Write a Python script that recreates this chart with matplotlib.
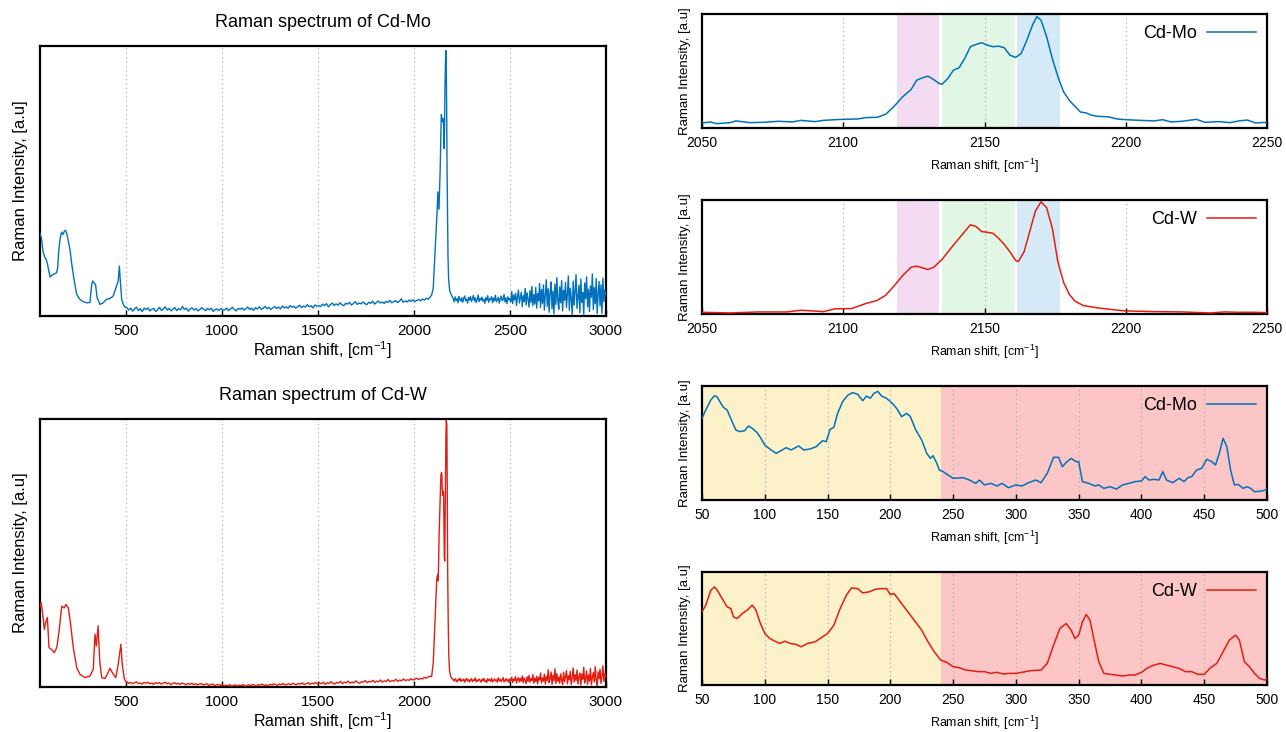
import numpy as np
import matplotlib
matplotlib.use("Agg")
import matplotlib.pyplot as plt

plt.rcParams['font.family'] = ['Liberation Sans', 'DejaVu Sans']
plt.rcParams['mathtext.fontset'] = 'custom'
plt.rcParams['mathtext.rm'] = 'Liberation Sans'
plt.rcParams['mathtext.default'] = 'regular'

BLUE = '#0072bd'
RED = '#e41d12'

# ---------------- full spectra (left panels) ----------------
# Cd-Mo low-frequency part
mo_low_x = [50, 55, 60, 68, 78, 85, 92, 105, 120, 139, 145, 150, 158, 165, 172, 180, 186, 192,
            200, 210, 218, 231, 244, 260, 278, 296, 313, 322, 328, 334, 342, 350, 365, 382, 399,
            417, 434, 451, 460, 466, 471, 478, 487, 495]
mo_low_y = [31, 30, 29, 24, 21.6, 21, 19, 14.4, 15.4, 16, 18, 24, 29, 31, 30.2, 31.5, 31.7, 30.5,
            27.8, 24, 19.2, 13, 8, 6.2, 5.3, 4.9, 5, 11.7, 13, 12.2, 11.7, 6.8, 4.3, 4.9, 6.2,
            6.5, 7.4, 11.1, 13, 18.5, 13, 6.2, 4.3, 3.3]
# Cd-Mo baseline 500 - 2085
mo_base_y = [3.1, 2.2, 2.9, 1.8, 2.6, 3.3, 2.0, 2.7, 1.6, 2.9, 2.4, 3.0, 1.9, 2.5, 2.8, 1.7, 2.3,
             3.2, 2.1, 2.6, 3.4, 2.2, 2.8, 1.9, 2.5, 3.1, 2.0, 2.7, 2.3, 3.5, 2.4, 2.9, 1.8, 2.6,
             3.0, 2.2, 2.7, 1.9, 2.4, 3.1, 2.5, 2.0, 2.8, 2.3, 2.9, 1.7, 2.4, 2.6, 2.1, 2.8, 2.2,
             2.3, 2.9, 2.0, 2.6, 3.2, 2.4, 1.9, 2.8, 2.5, 3.0, 2.2, 2.7, 3.3, 2.4, 2.9, 2.1, 3.1,
             2.6, 3.4, 2.5, 2.8, 3.6, 2.7, 3.2, 2.4, 3.0, 3.5, 2.8, 3.3, 2.6, 3.7, 3.0, 3.4, 2.8,
             3.9, 3.2, 3.6, 2.9, 3.5, 4.0, 3.1, 3.7, 3.3, 4.2, 3.4, 3.8, 3.0, 4.1, 3.6, 3.9,
             3.5, 4.4, 3.8, 4.6, 3.4, 4.2, 4.8, 3.9, 4.5, 4.0, 4.9, 4.2, 3.8, 4.7, 4.4, 5.0, 4.1,
             4.6, 5.3, 4.3, 4.8, 4.5, 5.2, 4.6, 4.2, 5.1, 4.7, 5.5, 4.4, 5.0, 5.6, 4.8, 5.2, 4.6,
             5.4, 5.0, 5.8, 4.9, 5.3, 5.7, 5.0, 5.5, 6.4, 5.1, 5.6, 5.2, 5.9, 5.4, 6.0, 5.3, 5.8,
             6.1, 5.6, 6.3, 5.9, 6.6, 6.2, 7.0]
# Cd-Mo main band
mo_peak_x = [2093, 2101, 2110, 2119, 2122, 2125, 2128, 2131, 2134, 2137, 2140, 2143, 2146, 2150,
             2154, 2156, 2158, 2160, 2162, 2165, 2167, 2169, 2171, 2173, 2176, 2178, 2181, 2185,
             2188, 2195]
mo_peak_y = [7.8, 10.3, 22.7, 35, 40, 46, 43, 39.5, 46, 53.6, 65, 74.7, 73.5, 72,
             73, 68, 62, 70, 84, 94, 98.3, 92, 78, 55, 35, 22, 14, 10.5,
             9, 7.8]
# Cd-Mo tail 2205 - 3000
mo_tail_y = [6.5, 5.2, 7.1, 5.8, 6.4, 4.9, 7.3, 6.0, 5.5, 6.8, 5.1, 6.6, 7.4, 5.7, 6.2, 4.8, 6.9,
             5.9, 7.2, 5.4, 6.3, 7.6, 5.6, 6.7, 5.0, 6.1, 7.8, 5.3, 6.5, 5.9, 7.0, 5.5, 6.2, 4.7,
             6.8, 5.8, 7.5, 5.1, 6.4, 6.0, 7.2, 4.9, 6.6, 5.6, 7.7, 5.3, 6.1, 6.9, 4.8, 6.3, 7.4,
             5.7, 6.0, 8.0, 5.2, 6.7, 4.6, 7.1, 5.9, 6.5,
             5.2, 9.1, 4.6, 7.8, 5.9, 8.4, 3.9, 7.2, 9.6, 4.8, 6.9, 8.8, 3.5, 7.5, 5.4, 10.2, 4.1,
             8.6, 6.2, 3.3, 9.4, 5.0, 11.0, 3.8, 7.9, 4.4, 10.6, 2.9, 8.3, 5.6, 12.1, 3.1, 9.8,
             4.7, 11.5, 2.2, 7.6, 13.4, 3.6, 10.1, 1.4, 8.9, 12.6, 2.7, 9.2, 0.8, 11.8, 4.3, 14.2,
             6.0, 2.5, 10.8, 4.9, 13.1, 1.9, 9.5, 5.8, 12.4, 3.2, 8.1, 14.8, 2.1, 10.3, 6.6, 0.5,
             12.9, 4.0, 9.0, 15.3, 2.8, 7.3, 11.4, 1.2, 13.7, 5.1, 8.7, 0.3, 12.2, 6.4, 14.5, 3.4,
             9.9, 1.7, 11.1, 7.0, 15.6, 2.4, 10.5, 4.5, 13.9, 0.9, 8.2, 12.8, 3.7, 11.6, 1.0, 14.0,
             5.3, 9.7, 7.4]

# Cd-W low-frequency part
w_low_x = [50, 58, 65, 75, 84, 91, 99.5, 113, 127, 140, 152, 166, 178, 188, 200, 212, 226, 244,
           261, 287, 313, 330, 339, 346, 355, 364, 374, 391, 405, 417, 434, 447, 460, 474, 481,
           492, 505]
w_low_y = [29, 31.5, 28.4, 21.5, 24.6, 25.9, 14.7, 14, 12.8, 14.7, 20.9, 30.2, 29.5, 30.8, 29.5,
           23.4, 14.7, 7.2, 4.7, 3.5, 4.1, 6.6, 19.7, 15.3, 22.8, 9.5, 3.5, 3.2, 5, 7, 4.8, 3.5,
           8.5, 15.9, 8.5, 2.9, 1.6]
w_base_y = [1.9, 1.4, 1.7, 1.2, 1.6, 1.9, 1.3, 1.5, 1.1, 1.7, 1.4, 1.8, 1.2, 1.5, 1.0, 1.6, 1.3,
            1.7, 1.1, 1.4, 1.8, 1.2, 1.5, 0.9, 1.3, 1.6, 1.1, 1.4, 1.0, 1.5, 1.2, 0.8, 1.3, 1.0,
            1.4, 0.9, 1.2, 0.8, 1.1, 1.3, 0.7, 1.0, 1.2, 0.6, 0.9, 1.1, 0.5, 0.8, 1.0, 0.6, 0.9,
            0.4, 0.7, 0.5, 0.9, 0.3, 0.6, 0.8, 0.4, 0.7, 0.5, 0.9, 0.3, 0.6, 0.8, 0.5, 1.0, 0.6,
            0.4, 0.9, 0.7, 1.1, 0.6, 0.8, 0.5, 1.0, 0.7, 1.2, 0.8, 0.6, 1.1, 0.9, 1.3, 0.7, 1.0,
            1.2, 0.8, 1.4, 1.0, 0.9, 1.3, 1.1, 1.5, 0.9, 1.2, 1.6, 1.0, 1.4, 1.2, 1.7, 1.1,
            1.5, 1.2, 1.8, 1.0, 1.6, 1.3, 2.0, 1.4, 1.1, 1.7, 1.5, 2.1, 1.3, 1.8, 1.6, 2.2, 1.4,
            1.9, 1.5, 2.3, 1.7, 1.4, 2.0, 1.8, 2.4, 1.6, 2.1, 1.9, 2.5, 1.7, 2.2, 2.0, 2.6, 1.8,
            2.3, 2.1, 2.8, 2.0, 2.4, 2.2, 2.9, 2.1, 2.6, 2.3, 3.0, 2.4, 2.7, 2.5, 3.1, 2.6, 2.9,
            3.3, 2.8, 3.2, 3.0, 3.6, 3.3, 3.8, 4.0]
w_peak_x = [2093, 2101, 2110, 2119, 2124, 2127, 2132, 2137, 2141, 2144, 2146, 2148, 2150, 2153,
            2155, 2157, 2159, 2161, 2163, 2165, 2167, 2169, 2172, 2174, 2176, 2179, 2182, 2186,
            2192, 2197]
w_peak_y = [4, 9, 24, 40, 42, 39.6, 57.8, 70, 79, 80, 79, 74, 71.5, 73,
            72, 60, 48, 47, 62, 79, 93, 99.5, 98, 75, 45, 25, 12, 6,
            4, 3.2]
w_tail_y = [2.8, 2.2, 3.1, 2.5, 1.9, 2.9, 2.4, 3.3, 2.1, 2.7, 2.3, 3.0, 1.8, 2.6, 3.2, 2.2, 2.8,
            1.9, 2.5, 3.1, 2.0, 2.7, 2.4, 3.4, 1.9, 2.6, 2.2, 3.0, 2.5, 1.8, 2.9, 2.3, 3.2, 2.0,
            2.6, 1.7, 3.1, 2.4, 2.8, 2.1, 3.3, 1.9, 2.5, 3.0, 2.2, 2.7, 1.8, 3.4, 2.3, 2.9, 2.0,
            2.6, 3.5, 1.9, 2.4, 3.1, 2.2, 2.8, 1.7, 3.0,
            2.3, 3.6, 1.7, 3.0, 2.4, 3.9, 1.5, 2.8, 3.5, 1.9, 3.2, 2.2, 4.1, 1.6, 3.4, 2.5, 1.3,
            3.8, 2.1, 4.3, 1.8, 3.1, 2.4, 4.6, 1.4, 3.3, 2.0, 4.0, 1.2, 3.6, 2.6, 5.2, 1.5, 3.4,
            2.2, 4.8, 1.1, 3.9, 2.5, 6.4, 1.6, 3.2, 5.6, 1.0, 4.4, 2.3, 6.8, 1.3, 5.0, 2.1, 3.7,
            1.4, 4.9, 2.6, 1.0, 5.5, 2.0, 3.8, 6.1, 1.2, 4.2, 2.7, 5.8, 0.9, 3.5, 7.1, 1.8, 4.6,
            2.4, 6.3, 1.1, 3.9, 5.2, 0.7, 4.8, 2.9, 7.4, 1.5, 3.3, 6.0, 1.0, 4.5, 2.2, 6.9, 0.8,
            3.6, 5.4, 1.9, 7.6, 2.5, 0.6, 5.7, 3.1, 6.6, 1.3, 4.1, 7.9, 2.0, 5.0, 3.4]

# ---------------- zoomed spectra (right panels) ----------------
mo_hi_x = [2050, 2053, 2055, 2060, 2062, 2067, 2072, 2077, 2082, 2085, 2090, 2093, 2097, 2100,
           2105, 2108, 2112, 2115, 2118, 2121, 2124, 2126, 2128, 2130, 2132, 2134, 2135, 2137,
           2139, 2141, 2143, 2145, 2147, 2149, 2151, 2153, 2155, 2157, 2159, 2161, 2163, 2165,
           2167, 2168.5, 2170, 2172, 2174, 2176, 2178, 2180, 2182, 2184, 2186, 2188, 2190, 2194,
           2197, 2200, 2205, 2210, 2213, 2216, 2220, 2225, 2228, 2233, 2237, 2240, 2243, 2246,
           2250]
mo_hi_y = [4.4, 5.3, 3.8, 4.7, 6.2, 4.7, 5.0, 5.9, 5.3, 6.7, 5.6, 6.7, 7.3, 7.6,
           7.9, 9.1, 9.4, 12, 19, 27.3, 33.7, 41.9, 44, 45.5, 42.5, 39, 38.4, 43.4,
           50.7, 52.8, 61, 71.3, 73.3, 74.8, 72.7, 71.3, 71.8, 70.4, 63.9, 61.9, 65.4, 77.1,
           90.3, 97.7, 94.7, 80, 61, 44.9, 31.7, 24.3, 19, 14, 13.2, 11.1, 10.3, 9.7,
           7.9, 7.3, 6.7, 6.2, 7.3, 5.3, 5.9, 7.6, 5.0, 5.6, 4.7, 6.2, 7.0, 4.4,
           5.0]
w_hi_x = [2050, 2060, 2070, 2080, 2085, 2093, 2097, 2103, 2108, 2112, 2115, 2118, 2121, 2124,
          2126, 2128, 2130, 2132, 2135, 2138, 2141, 2143, 2145, 2147, 2149, 2151, 2153, 2155,
          2157, 2159, 2161, 2162, 2164, 2166, 2168, 2170, 2172, 2174, 2176, 2178, 2180, 2182,
          2185, 2190, 2195, 2200, 2210, 2220, 2230, 2235, 2240, 2245, 2250]
w_hi_y = [1.5, 0.9, 1.8, 1.8, 3.3, 2.1, 4.5, 4.8, 9.2, 11.9, 16.4, 24.7, 33.6, 41,
          42, 40.5, 39, 41, 47.9, 57.4, 66.4, 72.3, 78.3, 76.8, 72.3, 71.7, 70.8, 66.4,
          61, 54.5, 47, 46.1, 54.5, 72.3, 90.2, 98.5, 93.2, 75.3, 45.5, 27.7, 17.3, 11.3,
          7.4, 5.4, 3.9, 2.7, 2.1, 1.8, 0.9, 1.8, 1.5, 1.5, 1.2]

mo_lo_x = [50, 53, 57, 60, 62, 65, 67, 70, 74, 77, 80, 84, 87, 90, 94, 97, 100, 105, 109, 113,
           117, 121, 127, 131, 136, 141, 146, 149, 152, 155, 158, 162, 166, 170, 174, 178, 181,
           184, 187, 190, 193, 197, 201, 205, 209, 213, 216, 220, 225, 229, 232, 234, 237, 239,
           242, 246, 250, 258, 263, 268, 271, 275, 280, 285, 289, 294, 300, 305, 310, 316, 320,
           325, 330, 334, 337, 340, 344, 348, 350, 353, 358, 363, 366, 370, 375, 380, 385, 390,
           395, 400, 403, 406, 410, 414, 417, 420, 425, 430, 434, 437, 440, 444, 448, 452, 456,
           459, 462, 465, 468, 471, 474, 477, 481, 484, 487, 490, 494, 497, 500]
mo_lo_y = [71.6, 79, 87.7, 91.5, 90.6, 84.8, 81.3, 79, 68.7, 61.4, 60, 60.8, 64.9, 62.9, 59, 54,
           48.2, 43.9, 40.9, 43.3, 45.9, 43.9, 47.4, 43.9, 44.7, 46.8, 52, 51.2, 62, 63.7, 76,
           86.3, 91.8, 94.2, 92.7, 87.1, 91.2, 89.2, 93.6, 95.3, 91.2, 89.2, 85.4, 80.4, 73.1,
           76, 73.1, 62, 52.6, 40.9, 36.5, 38.9, 32.2, 26.3, 24.9, 21.9, 19, 19.6, 17.5, 14.6,
           17.5, 13.2, 14.6, 12.3, 14.6, 10.8, 13.2, 12.3, 15.2, 17.5, 15.2, 23.4, 37.4, 37.4,
           29.2, 32.9, 36.5, 33.6, 33.6, 16.1, 14.6, 12.3, 13.2, 10.2, 11.7, 9.6, 13.2, 14.6,
           16.1, 16.7, 20.5, 17.5, 18.1, 17.5, 24.9, 17.5, 15.2, 19, 16.1, 19.6, 20.5, 26.3,
           27.8, 35.7, 33.6, 30.7, 40.9, 54.1, 46.8, 26.3, 13.2, 13.7, 10.2, 11.7, 10.2, 7.3,
           7.6, 8.2, 9.4]
w_lo_x = [50, 53, 57, 60, 63, 66, 70, 73, 75, 78, 82, 86, 90, 93, 96, 100, 104, 108, 112, 116,
          120, 125, 129, 134, 140, 146, 150, 155, 160, 165, 169, 174, 178, 183, 188, 193, 197,
          200, 203, 207, 212, 218, 225, 230, 235, 240, 245, 250, 255, 260, 265, 270, 275, 280,
          285, 290, 295, 300, 305, 310, 315, 320, 325, 330, 335, 340, 344, 347, 350, 353, 356,
          359, 362, 366, 370, 375, 380, 385, 390, 395, 400, 405, 410, 415, 420, 425, 430, 435,
          440, 445, 450, 455, 460, 465, 470, 475, 478, 482, 486, 490, 494, 498, 500]
w_lo_y = [64.7, 70.6, 83.8, 86.8, 82.4, 76.5, 69.1, 67.6, 60.3, 58.8, 63.2, 66.2, 70.6, 66.2,
          55.9, 45.6, 41.2, 38.8, 36.8, 38.8, 36.8, 35.9, 33.8, 36.8, 38.2, 42.6, 45.6, 52.9,
          67.6, 79.4, 85.9, 85.3, 81.5, 82.4, 84.7, 85.3, 85.3, 80, 80.9, 75, 67.6, 58.8, 48.5,
          38.2, 29.4, 22.1, 20, 16.2, 15.3, 13.2, 12.6, 11.8, 11.8, 10.3, 11.2, 9.7, 10.3, 10.3,
          11.2, 12.4, 12.9, 13.2, 19.1, 35.3, 50, 54.4, 48.5, 41.2, 44.1, 55.9, 62.4, 57.4,
          41.2, 20.6, 10.3, 9.4, 8.8, 7.9, 8.8, 8.8, 11.2, 15.3, 17.6, 19.1, 17.6, 16.2, 14.7,
          11.8, 11.8, 9.4, 9.4, 15.3, 19.1, 29.4, 39.7, 44.1, 39.7, 20.6, 16.2, 10.3, 5.9, 4.4,
          5.3]

FULL_TICKS = [500, 1000, 1500, 2000, 2500, 3000]
HI_TICKS = [2050, 2100, 2150, 2200, 2250]
LO_TICKS = [50, 100, 150, 200, 250, 300, 350, 400, 450, 500]

W, H = 1286, 732
fig = plt.figure(figsize=(W / 100, H / 100), dpi=100)


def frac(x0, y0, x1, y1):
    return [x0 / W, 1 - y1 / H, (x1 - x0) / W, (y1 - y0) / H]


def style(ax, ticks, xlim, tick_fs, label_fs, ylab_fs, labelpad_x):
    ax.set_xlim(*xlim)
    ax.set_ylim(0, 100)
    ax.set_yticks([])
    ax.set_xticks(ticks)
    ax.tick_params(axis='x', direction='in', length=4, width=1.0, labelsize=tick_fs, pad=6,
                   top=False)
    for s in ax.spines.values():
        s.set_linewidth(1.6)
    for t in ticks:
        if xlim[0] < t < xlim[1]:
            ax.axvline(t, color='#b0b0b0', lw=0.9, ls=(0, (1, 2.5)), zorder=1)
    ax.set_xlabel('Raman shift, [cm$^{-1}$]', fontsize=label_fs, labelpad=labelpad_x)
    ax.set_ylabel('Raman Intensity, [a.u]', fontsize=ylab_fs, labelpad=8)


def full_xy(low_x, low_y, base_y, peak_x, peak_y, tail_y):
    bx = np.linspace(505, 2085, len(base_y))
    tx = np.linspace(2205, 3000, len(tail_y))
    x = np.concatenate([low_x, bx, peak_x, tx])
    y = np.concatenate([low_y, base_y, peak_y, tail_y])
    return x, y


# Left top: Cd-Mo
ax1 = fig.add_axes(frac(39.5, 46, 605.8, 316))
x, y = full_xy(mo_low_x, mo_low_y, mo_base_y, mo_peak_x, mo_peak_y, mo_tail_y)
ax1.plot(x, y, color=BLUE, lw=1.0, zorder=3)
style(ax1, FULL_TICKS, (50, 3000), 11, 11.5, 12, 1)
ax1.set_title('Raman spectrum of Cd-Mo', fontsize=13, pad=14)

# Left bottom: Cd-W
ax2 = fig.add_axes(frac(39.5, 419, 605.8, 687))
x, y = full_xy(w_low_x, w_low_y, w_base_y, w_peak_x, w_peak_y, w_tail_y)
ax2.plot(x, y, color=RED, lw=1.0, zorder=3)
style(ax2, FULL_TICKS, (50, 3000), 11, 11.5, 12, 1)
ax2.set_title('Raman spectrum of Cd-W', fontsize=13, pad=14)


def hi_spans(ax):
    ax.axvspan(2119, 2134, color='#f3dcf1', lw=0, zorder=0)
    ax.axvspan(2135, 2160.8, color='#e1f6e4', lw=0, zorder=0)
    ax.axvspan(2161.5, 2176.6, color='#d5eaf6', lw=0, zorder=0)


def lo_spans(ax):
    ax.axvspan(50, 240, color='#fdf1c9', lw=0, zorder=0)
    ax.axvspan(240, 500, color='#fcc5c6', lw=0, zorder=0)


panels = [
    ((702, 14, 1267, 128), mo_hi_x, mo_hi_y, BLUE, 'Cd-Mo', HI_TICKS, (2050, 2250), hi_spans),
    ((702, 200, 1267, 314), w_hi_x, w_hi_y, RED, 'Cd-W', HI_TICKS, (2050, 2250), hi_spans),
    ((702, 386, 1267, 500), mo_lo_x, mo_lo_y, BLUE, 'Cd-Mo', LO_TICKS, (50, 500), lo_spans),
    ((702, 572, 1267, 685), w_lo_x, w_lo_y, RED, 'Cd-W', LO_TICKS, (50, 500), lo_spans),
]
for box, px, py, col, lab, ticks, xlim, spans in panels:
    ax = fig.add_axes(frac(*box))
    spans(ax)
    line, = ax.plot(px, py, color=col, lw=1.1, zorder=3, label=lab)
    style(ax, ticks, xlim, 10, 9, 9.5, 5)
    ax.legend(handles=[line], loc='upper right', frameon=False, fontsize=13,
              markerfirst=False, handlelength=2.7, borderaxespad=0.2, handletextpad=0.6)

fig.savefig('out.png', dpi=100)
